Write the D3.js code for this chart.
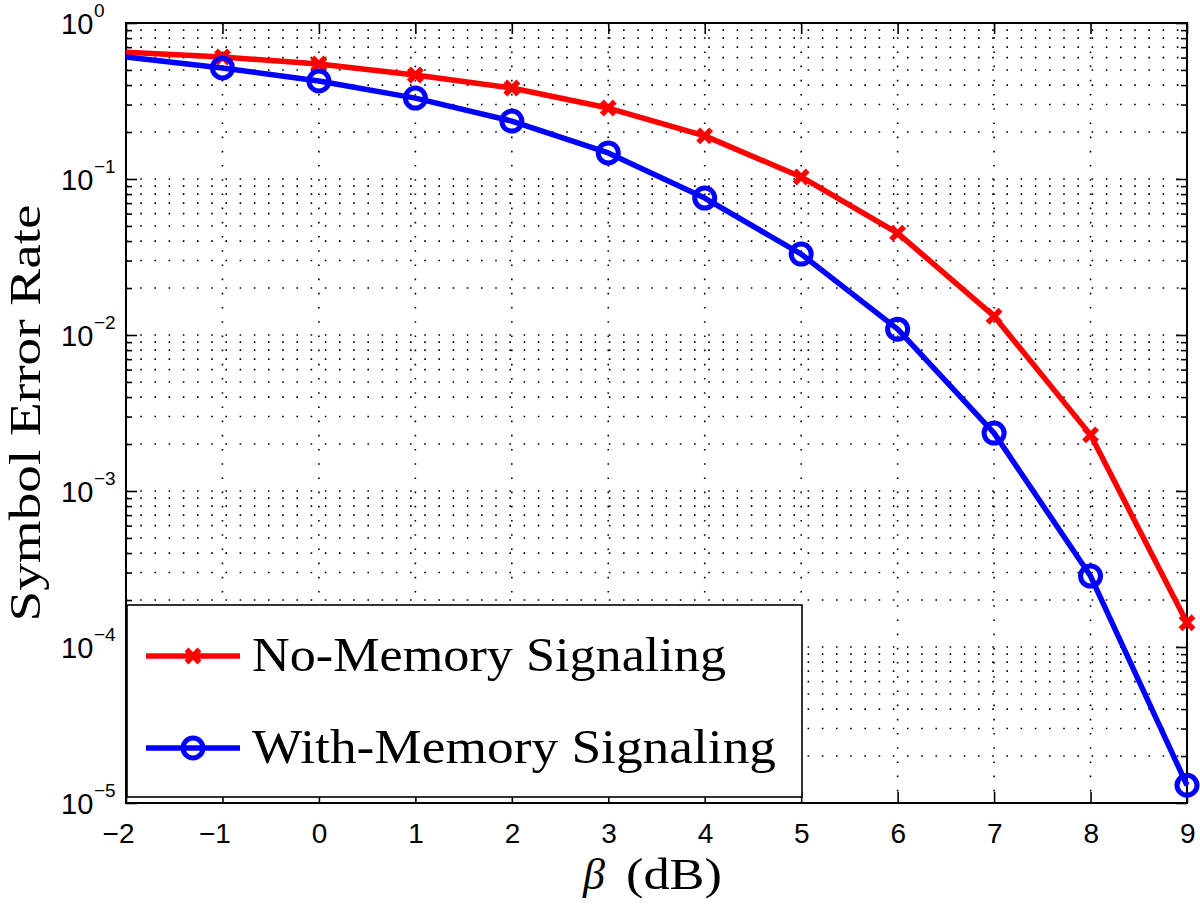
<!DOCTYPE html>
<html>
<head>
<meta charset="utf-8">
<script src="https://cdn.jsdelivr.net/npm/d3@7"></script>
<style>
  body { margin: 0; background: #fff; }
  svg { display: block; }
</style>
</head>
<body>
<div id="chart"></div>
<script>
// beta in dB
const beta = [-2, -1, 0, 1, 2, 3, 4, 5, 6, 7, 8, 9];
// symbol error rate
const noMemory = [0.65, 0.605, 0.546, 0.464, 0.383, 0.285, 0.189, 0.103, 0.045, 0.0132, 0.00229, 1.43e-4];
const withMemory = [0.605, 0.515, 0.425, 0.330, 0.235, 0.147, 0.0755, 0.033, 0.0109, 0.00235, 2.85e-4, 1.3e-5];
const xTicks = [-2, -1, 0, 1, 2, 3, 4, 5, 6, 7, 8, 9];
const decades = [0, -1, -2, -3, -4, -5];
const legendLabels = ["No-Memory Signaling", "With-Memory Signaling"];

const width = 1200, height = 907;
const plotL = 126, plotR = 1187, plotT = 23, plotB = 803;
const serif = "'Liberation Serif', 'Times New Roman', serif";
const sans = "'Liberation Sans', Arial, sans-serif";

const svg = d3.select("#chart").append("svg")
    .attr("width", width)
    .attr("height", height);

const x = d3.scaleLinear().domain([-2, 9]).range([plotL, plotR]);
const y = d3.scaleLog().domain([1e-5, 1]).range([plotB, plotT]);

// minor + major y values
const yVals = [];
for (let e = -5; e < 0; e++) {
    for (let m = 1; m < 10; m++) yVals.push(m * Math.pow(10, e));
}
yVals.push(1);

// dotted grid
const grid = svg.append("g").attr("stroke", "#000").attr("stroke-width", 1.6)
    .attr("stroke-dasharray", "1.6,12.6");
grid.selectAll("line.h")
    .data(yVals.filter(v => v > 1e-5 && v < 1))
    .join("line")
    .attr("class", "h")
    .attr("x1", plotL).attr("x2", plotR)
    .attr("y1", d => y(d)).attr("y2", d => y(d));
grid.selectAll("line.v")
    .data(xTicks.filter(v => v > -2 && v < 9))
    .join("line")
    .attr("class", "v")
    .attr("x1", d => x(d)).attr("x2", d => x(d))
    .attr("y1", plotT).attr("y2", plotB);

// axes with inward ticks
const xBottom = svg.append("g")
    .attr("transform", `translate(0,${plotB})`)
    .call(d3.axisBottom(x).tickValues(xTicks).tickSizeInner(-11).tickSizeOuter(0));
const xTop = svg.append("g")
    .attr("transform", `translate(0,${plotT})`)
    .call(d3.axisTop(x).tickValues(xTicks).tickSizeInner(-11).tickSizeOuter(0).tickFormat(""));
const yLeft = svg.append("g")
    .attr("transform", `translate(${plotL},0)`)
    .call(d3.axisLeft(y).tickValues(yVals).tickSizeInner(-6).tickSizeOuter(0).tickFormat(""));
const yRight = svg.append("g")
    .attr("transform", `translate(${plotR},0)`)
    .call(d3.axisRight(y).tickValues(yVals).tickSizeInner(-6).tickSizeOuter(0).tickFormat(""));

const isMajor = v => Math.abs(Math.log10(v) - Math.round(Math.log10(v))) < 1e-9;
yLeft.selectAll(".tick line").attr("x2", d => isMajor(d) ? 11 : 6);
yRight.selectAll(".tick line").attr("x2", d => isMajor(d) ? -11 : -6);

[xBottom, xTop, yLeft, yRight].forEach(g => {
    g.select(".domain").remove();
    g.selectAll(".tick line").attr("stroke", "#000").attr("stroke-width", 1.6);
});

xBottom.selectAll(".tick text")
    .attr("y", 40).attr("dy", 0)
    .attr("x", 8)
    .attr("text-anchor", "end")
    .attr("fill", "#000")
    .style("font-family", sans)
    .style("font-size", "28px");

// y tick labels 10^e
const yLab = svg.append("g")
    .style("font-family", sans)
    .attr("fill", "#000");
decades.forEach(e => {
    const yy = y(Math.pow(10, e));
    yLab.append("text")
        .attr("x", 61).attr("y", yy + 11)
        .style("font-size", "29px")
        .text("10");
    yLab.append("text")
        .attr("x", 94).attr("y", yy - 6)
        .style("font-size", "19px")
        .text(e === 0 ? "0" : "\u2212" + Math.abs(e));
});

// plot box
svg.append("rect")
    .attr("x", plotL).attr("y", plotT)
    .attr("width", plotR - plotL).attr("height", plotB - plotT)
    .attr("fill", "none").attr("stroke", "#000").attr("stroke-width", 2);

// series
const line = d3.line().x(d => x(d[0])).y(d => y(d[1]));
const series = [
    { values: noMemory, color: "#ff0000", marker: "x" },
    { values: withMemory, color: "#0000ff", marker: "o" }
];

function drawMarker(g, type, color) {
    if (type === "o") {
        g.append("circle").attr("r", 10)
            .attr("fill", "none").attr("stroke", color).attr("stroke-width", 5);
    } else {
        g.append("path").attr("d", "M-6.5,-6.5L6.5,6.5M-6.5,6.5L6.5,-6.5")
            .attr("fill", "none").attr("stroke", color).attr("stroke-width", 5.5);
    }
}

series.forEach(s => {
    const pts = beta.map((b, i) => [b, s.values[i]]);
    svg.append("path")
        .datum(pts)
        .attr("d", line)
        .attr("fill", "none")
        .attr("stroke", s.color)
        .attr("stroke-width", 5.5)
        .attr("stroke-linejoin", "round");
    pts.filter(p => p[0] > -2).forEach(p => {
        const g = svg.append("g").attr("transform", `translate(${x(p[0])},${y(p[1])})`);
        drawMarker(g, s.marker, s.color);
    });
});

// legend
const legend = svg.append("g");
legend.append("rect")
    .attr("x", 127).attr("y", 605)
    .attr("width", 675).attr("height", 192)
    .attr("fill", "#fff").attr("stroke", "#000").attr("stroke-width", 1.6);
const legendW = [474, 524];
series.forEach((s, i) => {
    const ly = 656 + i * 92;
    legend.append("line")
        .attr("x1", 146).attr("x2", 240)
        .attr("y1", ly).attr("y2", ly)
        .attr("stroke", s.color).attr("stroke-width", 5.5);
    const g = legend.append("g").attr("transform", `translate(193,${ly})`);
    drawMarker(g, s.marker, s.color);
    legend.append("text")
        .attr("x", 252).attr("y", ly + 15)
        .attr("textLength", legendW[i])
        .attr("lengthAdjust", "spacingAndGlyphs")
        .style("font-family", serif)
        .style("font-size", "48px")
        .text(legendLabels[i]);
});

// axis titles
svg.append("text")
    .attr("transform", "translate(40,413) rotate(-90)")
    .attr("text-anchor", "middle")
    .attr("textLength", 417)
    .attr("lengthAdjust", "spacingAndGlyphs")
    .style("font-family", serif)
    .style("font-size", "45px")
    .text("Symbol Error Rate");

svg.append("text")
    .attr("x", 583).attr("y", 889)
    .style("font-family", serif)
    .style("font-style", "italic")
    .style("font-size", "44px")
    .text("\u03b2");
svg.append("text")
    .attr("x", 626).attr("y", 889)
    .attr("textLength", 96)
    .attr("lengthAdjust", "spacingAndGlyphs")
    .style("font-family", serif)
    .style("font-size", "44px")
    .text("(dB)");
</script>
</body>
</html>
